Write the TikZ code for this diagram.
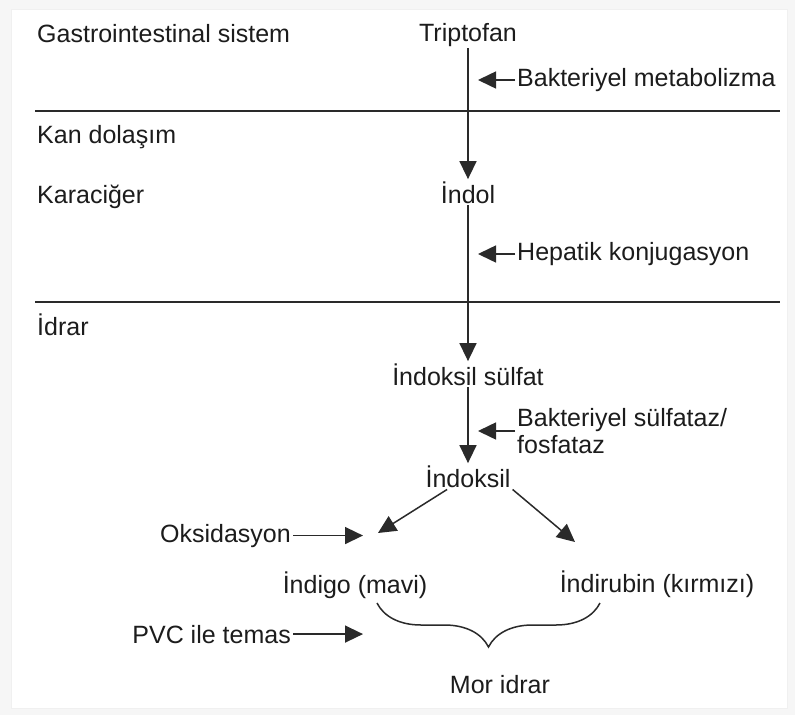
\documentclass[tikz,border=0pt]{standalone}
\usepackage{fontspec}
\setmainfont{Liberation Sans}
\usetikzlibrary{arrows.meta,decorations.pathreplacing}
\definecolor{inkgray}{HTML}{1c1c1c}
\definecolor{linegray}{HTML}{2a2a2a}
\tikzset{
    lbl/.style={inner sep=2pt, text=inkgray, font=\fontsize{25}{30}\selectfont},
    flow/.style={draw=linegray, line width=1.5pt, -{Triangle[length=18pt,width=17pt]}},
    zone/.style={draw=linegray, line width=1.2pt}
}
\begin{document}
\begin{tikzpicture}[x=1pt, y=-1pt]
        % frame
        \fill[gray!7] (0, 0) rectangle (795, 715);
        \filldraw[fill=white, draw=gray!12, line width=1pt] (11, 9) rectangle (787, 708);
        \useasboundingbox (0, 0) rectangle (795, 715);

        % zones
        \node (gis) [lbl, anchor=base west] at (35, 42) {Gastrointestinal sistem};
        \node (kan) [lbl, anchor=base west] at (35, 143) {Kan dolaşım};
        \node (kc) [lbl, anchor=base west] at (35, 203) {Karaciğer};
        \node (idrar) [lbl, anchor=base west] at (35, 335) {İdrar};
        \draw[zone] (35, 111) -- (780, 111);
        \draw[zone] (35, 302) -- (780, 302);

        % main pathway
        \node (trip) [lbl, anchor=base] at (468, 41) {Triptofan};
        \node (indol) [lbl, anchor=base] at (468, 203) {İndol};
        \node (insulf) [lbl, anchor=base] at (468, 385) {İndoksil sülfat};
        \node (indoksil) [lbl, anchor=base] at (468, 487) {İndoksil};
        \node (indigo) [lbl, anchor=base] at (355, 593) {İndigo (mavi)};
        \node (indirub) [lbl, anchor=base] at (657, 592) {İndirubin (kırmızı)};
        \node (mor) [lbl, anchor=base] at (500, 693) {Mor idrar};

        \draw[flow] (trip) -- (indol);
        \draw[flow] (indol) -- (insulf);
        \draw[flow] (insulf) -- (indoksil);

        % side steps
        \node (bakmet) [lbl, anchor=west] at (515, 80) {Bakteriyel metabolizma};
        \node (hepkon) [lbl, anchor=west] at (515, 254) {Hepatik konjugasyon};
        \node (sulfat) [lbl, anchor=west, align=left] at (515, 431) {Bakteriyel sülfataz/\\[-3pt]fosfataz};
        \coordinate (bakmettip) at (478, 80);
        \coordinate (hepkontip) at (478, 254);
        \coordinate (sulfattip) at (478, 431);
        \draw[flow] (bakmet.west) -- (bakmettip);
        \draw[flow] (hepkon.west) -- (hepkontip);
        \draw[flow] (sulfat.west) -- (sulfattip);

        % oxidation
        \coordinate (oxtip) at (378, 533);
        \coordinate (rubtip) at (575, 542);
        \draw[flow] (indoksil) -- (oxtip);
        \draw[flow] (indoksil.south east) -- (rubtip);

        \node (oks) [lbl, anchor=base east] at (293, 542) {Oksidasyon};
        \node (pvc) [lbl, anchor=base east] at (293, 643) {PVC ile temas};
        \coordinate (okstip) at ([xshift=70pt]oks.east);
        \coordinate (pvctip) at ([xshift=70pt]pvc.east);
        \draw[flow] (oks.east) -- (okstip);
        \draw[flow] (pvc.east) -- (pvctip);

        % brace
        \coordinate (bracel) at (377, 603);
        \coordinate (bracer) at (600, 603);
        \draw[draw=linegray, line width=1.5pt, decorate, decoration={brace, mirror, amplitude=44pt}] (bracel) -- (bracer);
\end{tikzpicture}
\end{document}
